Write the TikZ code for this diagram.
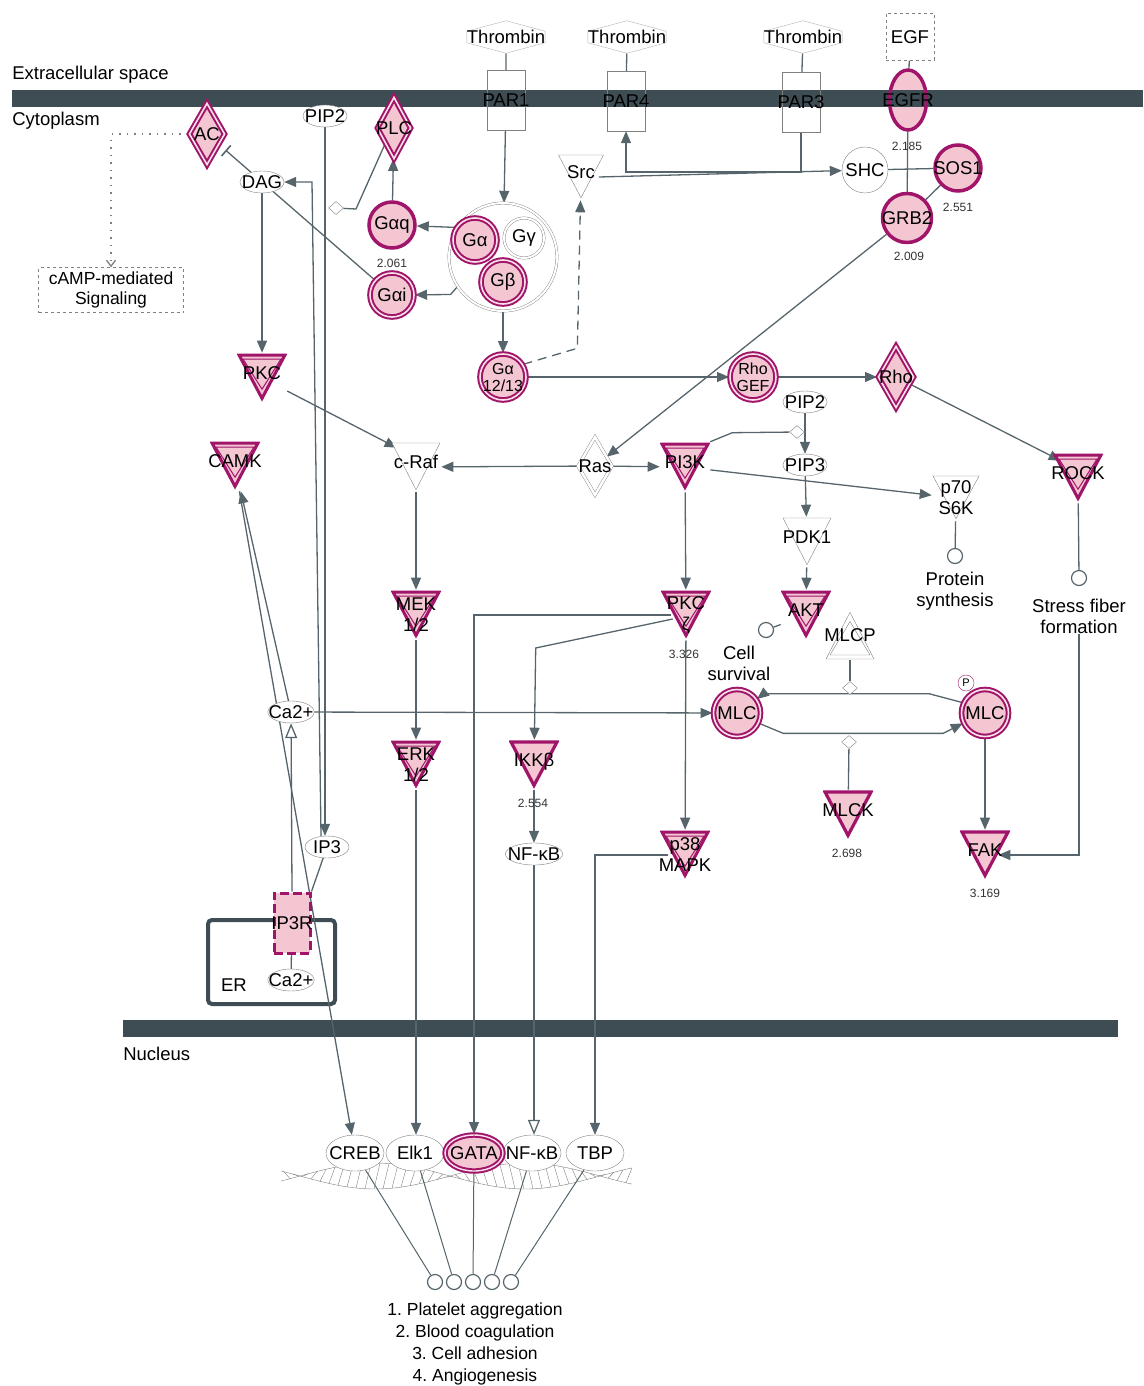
\documentclass[tikz,border=0pt]{standalone}
\usepackage{fontspec}
\setmainfont{Liberation Sans}
\usetikzlibrary{arrows.meta,shapes.geometric,shapes.symbols,backgrounds}
\frenchspacing

\definecolor{memb}{RGB}{62,76,84}
\definecolor{wire}{RGB}{86,100,108}
\definecolor{mag}{RGB}{160,20,106}
\definecolor{pnk}{RGB}{243,198,210}
\definecolor{pnkl}{RGB}{250,226,233}
\definecolor{bord}{RGB}{128,128,128}

% triangle outlines, inset from the node box
\newcommand{\tridown}[1]{([shift={(#1,-#1)}]path picture bounding box.north west) -- ([shift={(-#1,-#1)}]path picture bounding box.north east) -- ([shift={(0pt,{2.3*#1})}]path picture bounding box.south) -- cycle}
\newcommand{\triup}[1]{([shift={(#1,#1)}]path picture bounding box.south west) -- ([shift={(-#1,#1)}]path picture bounding box.south east) -- ([shift={(0pt,{-2.3*#1})}]path picture bounding box.north) -- cycle}

\begin{document}
\begin{tikzpicture}[x=1pt,y=-1pt,semithick,font=\fontsize{18.5}{21}\selectfont]
	\tikzstyle{every label}=[inner sep=0pt, align=center]
	\tikzstyle{ln}=[draw=wire, line width=1.3pt]
	\tikzstyle{act}=[ln, -{Triangle[length=12pt,width=10pt]}]
	\tikzstyle{oact}=[ln, -{Triangle[open,fill=white,length=15pt,width=12pt]}]
	\tikzstyle{inh}=[ln, -{Bar[width=14pt,line width=1.6pt]}, shorten >=8pt]
	\tikzstyle{txt}=[align=center, inner sep=0pt]
	\tikzstyle{val}=[font=\fontsize{12}{14}\selectfont, inner sep=0pt, text=black!80]
	\tikzstyle{chem}=[ellipse, draw=bord, thin, fill=white, inner xsep=-6pt, inner ysep=-3pt, minimum width=44pt, minimum height=22pt]
	\tikzstyle{tf}=[ellipse, draw=bord, thin, fill=white, inner xsep=-7pt, inner ysep=-2pt, minimum width=58pt, minimum height=36pt]
	\tikzstyle{rect}=[rectangle, draw=bord, thin, inner xsep=-5pt, minimum width=38pt, minimum height=60pt]
	\tikzstyle{dbox}=[rectangle, draw=bord, thin, dashed, fill=white, align=center, inner sep=1pt]
	\tikzstyle{lig}=[signal, signal to=north and south, signal pointer angle=150, draw=bord!60, thin, inner xsep=0pt, inner ysep=-1pt]
	\tikzstyle{molS}=[circle, draw=mag, line width=3.5pt, fill=pnk, inner sep=0pt, minimum size=46pt]
	\tikzstyle{molD}=[circle, draw=mag, line width=2pt, double=pnkl, double distance=1.6pt, fill=pnk, inner sep=0pt, minimum size=44pt]
	\tikzstyle{molW}=[circle, draw=bord, thin, fill=white, inner sep=0pt, minimum size=46pt]
	\tikzstyle{dia}=[diamond, draw=mag, line width=2pt, double=pnkl, double distance=1.6pt, fill=pnk, inner sep=0pt, minimum width=34pt, minimum height=60pt]
	\tikzstyle{diaW}=[diamond, draw=bord, thin, double=white, double distance=2.5pt, fill=white, inner sep=0pt, minimum width=34pt, minimum height=58pt]
	\tikzstyle{cat}=[diamond, draw=bord, thin, fill=white, inner sep=0pt, minimum width=15pt, minimum height=13pt]
	\tikzstyle{proc}=[circle, draw=wire, line width=1.2pt, fill=white, inner sep=0pt, minimum size=15pt]
	\tikzstyle{tri}=[rectangle, inner xsep=-5pt, inner ysep=0pt, minimum width=50pt, minimum height=50pt]
	\tikzstyle{lift}=[text depth=10pt]
	\tikzstyle{kinD}=[tri, path picture={\fill[pnk] \tridown{2pt}; \draw[mag, line width=3pt] \tridown{2pt}; \draw[mag, line width=1pt] \tridown{6pt};}]
	\tikzstyle{kinS}=[tri, path picture={\fill[pnk] \tridown{2pt}; \draw[mag, line width=3.2pt] \tridown{2pt};}]
	\tikzstyle{kinW}=[tri, path picture={\fill[white] \tridown{1pt}; \draw[bord, thin] \tridown{1pt};}]
	\tikzstyle{kinU}=[tri, path picture={\fill[white] \triup{1pt}; \draw[bord, thin] \triup{1pt}; \draw[bord, thin] \triup{5pt};}]

	\useasboundingbox (0,0) rectangle (1143,1386);

	% membranes and ER
	\begin{scope}[on background layer]
		\fill[pnk] (908,100) ellipse [x radius=18pt, y radius=30pt];
		\fill[memb] (12,90) rectangle (1143,107);
		\fill[memb] (123,1020) rectangle (1118,1037);
		\draw[memb, line width=4pt, rounded corners=4pt] (208,920) rectangle (335,1004);
	\end{scope}

	\node[txt, anchor=west] (exl) at (12,75) {Extracellular space};
	\node[txt, anchor=west] (cyl) at (12,121) {Cytoplasm};
	\node[txt, anchor=west] (nul) at (123,1054) {Nucleus};

	\node[lig] (thr1) at (506,37) {Thrombin};
	\node[lig] (thr2) at (627,37) {Thrombin};
	\node[lig] (thr3) at (803,37) {Thrombin};
	\node[dbox, minimum width=48pt, minimum height=47pt] (egf) at (910,37) {EGF};
	\node[rect] (par1) at (506,100) {PAR1};
	\node[rect] (par4) at (626,101) {PAR4};
	\node[rect] (par3) at (801,102) {PAR3};
	\node[ellipse, draw=mag, line width=3.5pt, inner sep=0pt, minimum width=37pt, minimum height=60pt, label=center:EGFR] (egfr) at (908,100) {};
	\node[val] (vegfr) at (907,146) {2.185};

	\node[dia, minimum width=36pt, minimum height=62pt, label=center:AC] (ac) at (207,134) {};
	\node[dia, minimum width=34pt, minimum height=62pt, label=center:PLC] (plc) at (394,128) {};
	\node[chem] (pip2a) at (325,116) {PIP2};
	\node[chem] (dag) at (262,182) {DAG};
	\node[cat] (c0) at (336,208) {};
	\node[dbox, font=\fontsize{17.5}{20}\selectfont, minimum width=145pt, minimum height=45pt] (camp) at (111,290) {cAMP-mediated\\Signaling};

	\node[molS, label=center:Gαq] (gaq) at (392,225) {};
	\node[molD, label=center:Gαi] (gai) at (392,295) {};
	\node[val] (vgai) at (392,263) {2.061};
	\node[circle, draw=bord, thin, double=white, double distance=2pt, fill=white, minimum size=108pt] (cplx) at (503,257) {};
	\node[molD, label=center:Gα] (ga) at (475,240) {};
	\node[circle, draw=bord, thin, double=white, double distance=2pt, fill=white, minimum size=40pt, label=center:Gγ] (gg) at (524,238) {};
	\node[molD, label=center:Gβ] (gb) at (503,282) {};
	\node[molD, minimum size=46pt, label={[font=\fontsize{16}{17}\selectfont]center:Gα\\12/13}] (g1213) at (503,377) {};

	\node[kinW, lift, minimum width=47pt, minimum height=46pt] (src) at (581,177) {Src};
	\node[molW] (shc) at (865,170) {SHC};
	\node[molS, label=center:SOS1] (sos1) at (958,168) {};
	\node[val] (vsos1) at (958,207) {2.551};
	\node[molS, minimum size=49pt, label=center:GRB2] (grb2) at (907,218) {};
	\node[val] (vgrb2) at (909,256) {2.009};

	\node[molD, minimum size=46pt, label={[font=\fontsize{16}{17}\selectfont]center:Rho\\GEF}] (rhogef) at (753,377) {};
	\node[dia, minimum width=36pt, minimum height=62pt, label=center:Rho] (rho) at (896,377) {};

	\node[kinD, lift] (pkc) at (262,378) {PKC};
	\node[kinD, lift] (camk) at (235,466) {CAMK};
	\node[kinW, lift] (craf) at (416,467) {c-Raf};
	\node[diaW, label=center:Ras] (ras) at (595,466) {};
	\node[kinD, lift] (pi3k) at (685,467) {PI3K};
	\node[chem] (pip2b) at (805,402) {PIP2};
	\node[chem] (pip3) at (805,465) {PIP3};
	\node[cat] (c1) at (797,432) {};
	\node[kinW, align=center, minimum width=48pt, minimum height=46pt] (p70) at (956,498) {p70\\S6K};
	\node[kinD, lift] (rock) at (1078,478) {ROCK};
	\node[kinW, lift] (pdk1) at (807,542) {PDK1};
	\node[proc] (psyc) at (955,556) {};
	\node[txt] (psy) at (955,591) {Protein\\synthesis};
	\node[proc] (sffc) at (1079,578) {};
	\node[txt] (sff) at (1079,616) {Stress fiber\\formation};

	\node[kinD, align=center] (mek) at (416,615) {MEK\\1/2};
	\node[kinD, align=center] (pkcz) at (686,615) {PKC\\ζ};
	\node[val] (vpkcz) at (684,654) {3.326};
	\node[kinD, lift] (akt) at (806,615) {AKT};
	\node[proc] (csc) at (766,630) {};
	\node[txt] (cs) at (739,663) {Cell\\survival};
	\node[kinU] (mlcp) at (850,635) {MLCP};

	\node[chem] (ca1) at (291,712) {Ca2+};
	\node[molD, minimum size=47pt, label=center:MLC] (mlc1) at (737,713) {};
	\node[molD, minimum size=47pt, label=center:MLC] (mlc2) at (985,713) {};
	\node[circle, draw=mag, thin, fill=white, inner sep=0pt, minimum size=16pt, font=\fontsize{11}{11}\selectfont] (ph) at (966,683) {P};
	\node[cat] (c2) at (850,688) {};
	\node[cat] (c3) at (849,742) {};

	\node[kinD, align=center] (erk) at (416,765) {ERK\\1/2};
	\node[kinS, lift] (ikkb) at (534,765) {IKKβ};
	\node[val] (vikkb) at (533,803) {2.554};
	\node[kinS, lift] (mlck) at (848,815) {MLCK};
	\node[val] (vmlck) at (847,853) {2.698};
	\node[kinD, align=center] (p38) at (685,855) {p38\\MAPK};
	\node[kinS, lift] (fak) at (985,855) {FAK};
	\node[val] (vfak) at (985,893) {3.169};

	\node[chem] (ip3) at (327,847) {IP3};
	\node[chem] (nfkb1) at (534,854) {NF-κB};
	\node[rectangle, draw=mag, line width=3pt, dash pattern=on 9pt off 4pt, fill=pnk, inner sep=0pt, minimum width=36pt, minimum height=60pt, label=center:IP3R] (ip3r) at (292,923) {};
	\node[txt] (erl) at (234,985) {ER};
	\node[chem] (ca2) at (291,980) {Ca2+};

	\node[tf] (creb) at (355,1153) {CREB};
	\node[tf] (elk1) at (415,1153) {Elk1};
	\node[tf] (nfkb2) at (532,1153) {NF-κB};
	\node[tf] (tbp) at (595,1153) {TBP};
	\node[tf, draw=mag, line width=2pt, double=pnkl, double distance=1.4pt, fill=pnk] (gata) at (474,1153) {GATA};
	\foreach \i/\x in {1/435,2/454,3/473,4/492,5/511}
		\node[proc] (o\i) at (\x,1282) {};
	\node[txt, font=\fontsize{17.5}{21.7}\selectfont] (outc) at (475,1344) {1. Platelet aggregation\\2. Blood coagulation\\3. Cell adhesion\\4. Angiogenesis};

	% connectors
	\begin{scope}[on background layer]
		\draw[bord, thin, domain=281:632, samples=90] plot (\x,{1176+13*sin((\x-300)*1.2)});
		\draw[bord, thin, domain=281:632, samples=90] plot (\x,{1176-13*sin((\x-300)*1.2)});
		\foreach \x in {284,293,...,626}
			\draw[bord, thin] (\x,{1176+13*sin((\x-300)*1.2)}) -- (\x+6,{1176-13*sin((\x+6-300)*1.2)});

		\path[ln] (thr1) edge (par1) (thr2) edge (par4) (thr3) edge (par3) (egf) edge (egfr);
		\draw[act] (par1) -- (cplx);
		\draw[act] (cplx.147) -- (gaq);
		\draw[act] (cplx.213) -- ++(-7,8) -- (gai);
		\draw[act] (gb) -- (g1213);
		\draw[act, dash pattern=on 9pt off 6pt] (g1213.32) -- ++(54,-16) -- (src);
		\draw[act] (g1213) -- (rhogef);
		\draw[act] (rhogef) -- (rho);
		\draw[act] (rho) -- ([shift={(8pt,-8pt)}]rock.north west);
		\draw[ln] (rock) -- (sffc);
		\draw[act] (sff) |- ([xshift=-12pt]fak.east);
		\draw[act] ([xshift=-6pt]src.east) -- (shc);
		\draw[act] (par3) -- ++(0,70) -| (par4);
		\path[ln] (shc) edge (sos1) (egfr) edge (grb2) (grb2) edge (sos1);
		\draw[act] (grb2) -- (ras);
		\draw[act] (ras) -- (craf);
		\draw[act] (ras) -- (pi3k);
		\draw[act] (pi3k) -- (p70);
		\draw[ln] (p70) -- (psyc);
		\draw[act] (pi3k) -- (pkcz);
		\draw[act] (pip2b) -- (pip3);
		\draw[ln] (pi3k.north east) -- ++(22,-9) -- (c1);
		\draw[act] (pip3) -- (pdk1);
		\draw[act] (pdk1) -- (akt);
		\draw[ln] (akt) -- (csc);
		\draw[act] (dag) -- (pkc);
		\draw[act] (pkc) -- ([shift={(6pt,-6pt)}]craf.north west);
		\draw[act] (craf) -- (mek);
		\draw[act] (mek) -- (erk);
		\draw[act] (erk) -- (erk |- elk1.north);
		\draw[act] ([xshift=10pt]pkcz.west) -| (gata);
		\draw[act] ([shift={(12pt,-4pt)}]pkcz.west) -- ++(-137,29) -- (ikkb);
		\draw[act] (ikkb) -- (nfkb1);
		\draw[oact] (nfkb1) -- (nfkb1 |- nfkb2.north);
		\draw[act] (pkcz) -- (p38);
		\draw[act] ([xshift=8pt]p38.west) -| (tbp);
		\draw[act] (ca1) -- (mlc1);
		\draw[act] (mlc2.155) -- ++(-34,-9) -- ++(-165,0) -- (mlc1.35);
		\draw[act] (mlc1.335) -- ++(24,10) -- ++(160,0) -- (mlc2.205);
		\draw[ln] (mlcp) -- (c2);
		\draw[ln] (mlck) -- (c3);
		\draw[act] (mlc2) -- (fak);
		\draw[inh] (gai) -- (ac);
		\draw[draw=bord, line width=1.3pt, dash pattern=on 1.5pt off 6pt, -{Straight Barb[length=6pt,width=9pt]}] (ac) -| (camp);
		\draw[act] (gaq) -- (plc);
		\draw[ln] (plc.south west) -- (356,209) -- (c0);
		\draw[act] (pip2a) -- (pip2a |- ip3.north);
		\draw[act] ([xshift=-6pt]ip3.north) -- (312,182) -- (dag);
		\draw[ln] (ip3) -- (ip3r.north east);
		\draw[ln] (ip3r) -- (ca2);
		\draw[oact] (ip3r.north) -- (ca1);
		\draw[act] (ca1) -- (camk);
		\draw[act] (camk) -- (creb);
		\foreach \a/\b in {creb/o1,elk1/o2,gata/o3,nfkb2/o4,tbp/o5}
			\draw[ln, line width=1pt] (\a) -- (\b);
	\end{scope}
\end{tikzpicture}
\end{document}
